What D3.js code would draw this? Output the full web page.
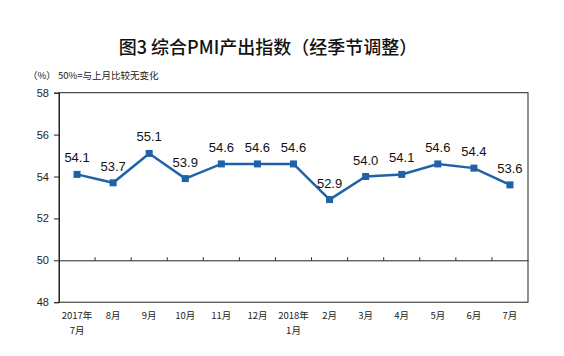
<!DOCTYPE html>
<html><head><meta charset="utf-8">
<script src="https://cdn.jsdelivr.net/npm/d3@7"></script>
<style>body{margin:0;background:#fff}</style>
</head><body>
<script>
const categories = ["2017年\n7月","8月","9月","10月","11月","12月","2018年\n1月","2月","3月","4月","5月","6月","7月"];
const values = [54.1,53.7,55.1,53.9,54.6,54.6,54.6,52.9,54.0,54.1,54.6,54.4,53.6];
const yTicks = [48,50,52,54,56,58];

const W=564,H=356;
const svg=d3.select("body").append("svg").attr("width",W).attr("height",H);
const L=59,R=528,T=92.7,B=302.2;
const x=d3.scaleBand().domain(d3.range(categories.length)).range([L,R]);
const y=d3.scaleLinear().domain([48,58]).range([B,T]);
const cjk='"Noto Sans CJK SC", "SimSun", sans-serif';

svg.append("text").attr("x",268).attr("y",54).attr("text-anchor","middle")
  .style("font-family",cjk).style("font-size","18px").style("font-weight","500").attr("fill","#111")
  .text("图3 综合PMI产出指数（经季节调整）");
svg.append("text").attr("x",28).attr("y",79).style("font-family",cjk).style("font-size","9.5px").attr("fill","#222")
  .text("（%） 50%=与上月比较无变化");

// frame
svg.append("rect").attr("x",L).attr("y",T).attr("width",R-L).attr("height",B-T)
  .attr("fill","none").attr("stroke","#222").attr("stroke-width",1);

// y axis
const ya=svg.append("g").attr("transform",`translate(${L},0)`)
  .call(d3.axisLeft(y).tickValues(yTicks).tickSize(5).tickFormat(d3.format("d")));
ya.select(".domain").attr("stroke","#222");
ya.selectAll("line").attr("stroke","#222");
ya.selectAll("text").style("font-family","Arial, 'Liberation Sans', sans-serif").style("font-size","11px").attr("fill","#222").attr("x",-10);

// 50 baseline with category ticks
const xa=svg.append("g").attr("transform",`translate(0,${y(50)})`)
  .call(d3.axisTop(x).tickValues([]).tickSizeOuter(0));
xa.select(".domain").attr("stroke","#222");
svg.selectAll(".xt").data(d3.range(1,categories.length)).enter().append("line")
  .attr("x1",i=>x(i)).attr("x2",i=>x(i)).attr("y1",y(50)).attr("y2",y(50)-3).attr("stroke","#222");

// x labels
const xl=svg.selectAll(".xl").data(categories).enter().append("text")
  .attr("text-anchor","middle").style("font-family",cjk).style("font-size","9.5px").attr("fill","#222");
xl.each(function(d,i){
  const parts=d.split("\n");
  d3.select(this).selectAll("tspan").data(parts).enter().append("tspan")
    .attr("x",x(i)+x.bandwidth()/2).attr("y",(p,j)=>319+j*14.5).text(p=>p);
});

// line
const cx=i=>x(i)+x.bandwidth()/2;
svg.append("path").datum(values).attr("fill","none").attr("stroke","#1F62A8").attr("stroke-width",2.5)
  .attr("d",d3.line().x((d,i)=>cx(i)).y(d=>y(d)));
svg.selectAll(".m").data(values).enter().append("rect")
  .attr("x",(d,i)=>cx(i)-3.5).attr("y",d=>y(d)-3.5).attr("width",7).attr("height",7).attr("fill","#1F62A8");
svg.selectAll(".lb").data(values).enter().append("text")
  .attr("x",(d,i)=>cx(i)).attr("y",d=>y(d)-12).attr("text-anchor","middle")
  .style("font-family","Arial, 'Liberation Sans', sans-serif").style("font-size","13px").attr("fill","#111")
  .text(d=>d.toFixed(1));
</script>
</body></html>
